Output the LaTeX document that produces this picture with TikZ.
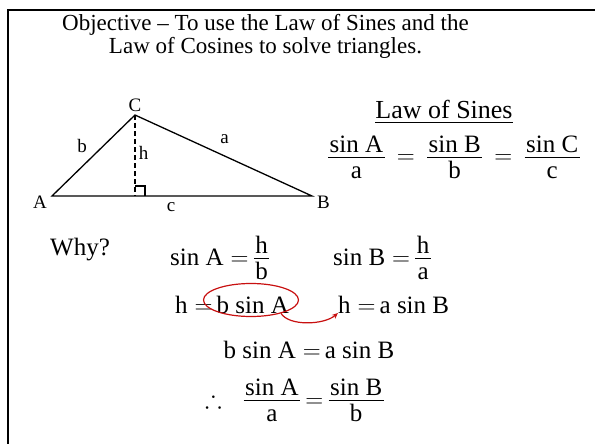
\documentclass[tikz,border=0pt]{standalone}
\usepackage{fontspec}
\setmainfont{Liberation Serif}
\usepackage{amsmath,amssymb}
\usetikzlibrary{arrows.meta, shapes.geometric}
\definecolor{markRed}{RGB}{200,16,16}
% compact fraction: text-size numerator / denominator
\newcommand{\ratio}[2]{\genfrac{}{}{}{1}{\mbox{\kern1.5pt\rule[-3.5pt]{0pt}{3.5pt}#1\kern1.5pt}}{\mbox{\rule{0pt}{19.5pt}#2}}}

\begin{document}
\begin{tikzpicture}[
  x=1pt, y=-1pt,
  title/.style={font=\fontsize{23}{23}\selectfont, align=center, anchor=north, inner sep=0pt},
  eq/.style={font=\fontsize{25}{28}\selectfont, anchor=base, inner sep=0pt},
  vlbl/.style={font=\fontsize{19}{22}\selectfont, anchor=base, inner sep=0pt},
  side/.style={line width=1.3pt},
  frame/.style={line width=2.6pt},
  ring/.style={draw=markRed, ellipse, line width=1.2pt, inner sep=0pt, minimum width=95pt, minimum height=33pt},
  arr/.style={-{Stealth[length=6pt, width=5pt]}, draw=markRed, line width=1.2pt}
]
\useasboundingbox (0,0) rectangle (595,444);

% slide frame (runs off the right and bottom edges)
\draw[frame] (595,10) -- (8,10) -- (8,444);

% Title
\node[title] (objective) at (265.5,14.5) {Objective -- To use the Law of Sines and the\\Law of Cosines to solve triangles.};

% Triangle: A / B on the base, C on top, F = foot of h
\coordinate (A) at (52,196);
\coordinate (B) at (312,196);
\coordinate (C) at (135,115);
\coordinate (F) at (135,196);

\draw[side] (A) -- (B) -- (C) -- cycle;
\draw[side, dash pattern=on 5pt off 3pt] (C) -- (F);
\draw[side] (F) ++(10,0) -- ++(0,-10) -- ++(-10,0);

\node[vlbl] (lblC) at (135,112) {C};
\node[vlbl] (lblA) at (40,208)  {A};
\node[vlbl] (lblB) at (323.5,208) {B};
\node[vlbl] (lbla) at (224.5,143) {a};
\node[vlbl] (lblb) at (82,153)  {b};
\node[vlbl] (lblc) at (171,211) {c};
\node[vlbl] (lblh) at (143.5,160) {h};

% Law of Sines
\node[eq, font=\fontsize{26}{28}\selectfont] (lawtitle) at (444,119) {\underline{Law of Sines}};
\node[eq] (sines) at (454,164) {$\ratio{sin A}{a} \;\,{=}\;\, \ratio{sin B}{b} \;\,{=}\;\, \ratio{sin C}{c}$};

% Why? -- derivation
\node[eq, anchor=base west] (why)  at (50,255)  {Why?};
\node[eq, anchor=base west] (sinA) at (170,265) {$\text{sin A} {\;=\,} \ratio{h}{b}$};
\node[eq, anchor=base west] (sinB) at (333,265) {$\text{sin B} {\;=\,} \ratio{h}{a}$};

\node[eq, anchor=base west] (hbA) at (175,313) {$\text{h} {\;=\,} \text{b sin A}$};
\node[eq, anchor=base west] (haB) at (338,313) {$\text{h} {\;=\,} \text{a sin B}$};

\node[ring] (ring) at (251,300) {};
\draw[arr] (ring.-24) .. controls +(8,13) and +(-14,12) .. (haB.base west);

\node[eq] (equal)  at (309,358) {$\text{b sin A} {\;=\,} \text{a sin B}$};
\node[eq] (result) at (295,407) {$\therefore\;\; \ratio{sin A}{a} {\,=\,} \ratio{sin B}{b}$};

\end{tikzpicture}
\end{document}
